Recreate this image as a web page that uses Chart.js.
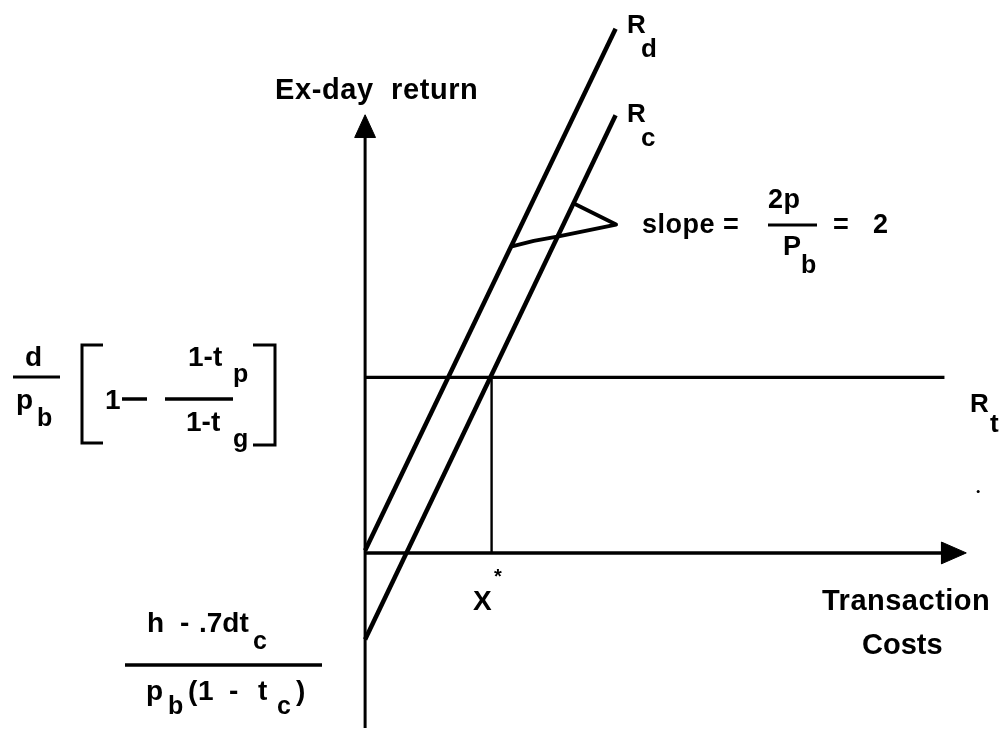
<!DOCTYPE html>
<html>
<head>
<meta charset="utf-8">
<script src="https://cdn.jsdelivr.net/npm/chart.js@4/dist/chart.umd.min.js"></script>
<style>
  html, body { margin: 0; padding: 0; background: #fff; }
  #wrap { width: 1005px; height: 732px; position: relative; }
</style>
</head>
<body>
<div id="wrap"><canvas id="c"></canvas></div>
<script>
// ---- data (diagram units) ----
const vAxisX = [0, 0];
const vAxisY = [-7.1, 16.9];
const hAxisX = [0, 23.3];
const hAxisY = [0, 0];
const vArrowX = [0, 0.42, -0.42, 0];
const vArrowY = [17.72, 16.8, 16.8, 17.72];
const hArrowX = [24.24, 23.24, 23.24, 24.24];
const hArrowY = [0, 0.44, -0.44, 0];
const rdX = [0, 10.1];
const rdY = [0.1, 21.2];
const rcX = [0, 10.1];
const rcY = [-3.5, 17.7];
const rtX = [0, 23.36];
const rtY = [7.1, 7.1];
const xStarX = [5.1, 5.1];
const xStarY = [0, 7.1];
const slopeX = [5.92, 6.8, 7.8, 10.12, 8.44];
const slopeY = [12.4, 12.62, 12.8, 13.28, 14.12];
const specX = [24.72];
const specY = [2.48];

function pts(xs, ys) { return xs.map((x, i) => ({ x: x, y: ys[i] })); }

function lineDs(xs, ys, w, extra) {
  return Object.assign({
    data: pts(xs, ys), showLine: true, borderColor: '#000', borderWidth: w,
    pointRadius: 0, fill: false, tension: 0
  }, extra || {});
}

const FONT = "'Liberation Sans', Arial, sans-serif";

const textPlugin = {
  id: 'texts',
  beforeDraw(chart) {
    const ctx = chart.ctx;
    ctx.save();
    ctx.fillStyle = '#fff';
    ctx.fillRect(0, 0, chart.width, chart.height);
    ctx.restore();
  },
  afterDraw(chart) {
    const ctx = chart.ctx;
    ctx.save();
    ctx.fillStyle = '#000';
    ctx.strokeStyle = '#000';
    ctx.textBaseline = 'alphabetic';
    ctx.textAlign = 'left';
    function t(s, x, y, size, ls) {
      ctx.font = 'bold ' + size + 'px ' + FONT;
      ctx.letterSpacing = (ls || 0) + 'px';
      ctx.fillText(s, x, y);
    }
    function bar(x1, y1, x2, y2, w) {
      ctx.lineWidth = w || 3;
      ctx.beginPath(); ctx.moveTo(x1, y1); ctx.lineTo(x2, y2); ctx.stroke();
    }
    // axis title
    t('Ex-day  return', 275, 99, 29, 0.6);
    // line labels
    t('R', 627, 33, 26); t('d', 641, 57, 26);
    t('R', 627, 122, 26); t('c', 641, 146, 26);
    t('R', 970, 412, 26); t('t', 990, 432, 26);
    // slope annotation
    t('slope', 642, 233, 27, 0.5);
    t('=', 723, 233, 27);
    t('2p', 768, 208, 27, 0.5);
    bar(768, 225, 817, 225, 3);
    t('P', 783, 255, 27);
    t('b', 801, 273, 25);
    t('=', 833, 233, 27);
    t('2', 873, 233, 27);
    // left formula d/p_b [1 - (1-t_p)/(1-t_g)]
    t('d', 25, 366, 28);
    bar(13, 377, 60, 377, 3);
    t('p', 16, 409, 28);
    t('b', 37, 426, 25);
    ctx.lineWidth = 3;
    ctx.beginPath();
    ctx.moveTo(103, 345); ctx.lineTo(82, 345); ctx.lineTo(82, 443); ctx.lineTo(103, 443);
    ctx.stroke();
    t('1', 105, 409, 28);
    bar(122, 399, 147, 399, 3.5);
    t('1-t', 188, 366, 28);
    t('p', 233, 382, 25);
    bar(165, 399, 233, 399, 3.5);
    t('1-t', 186, 431, 28);
    t('g', 233, 447, 25);
    ctx.lineWidth = 3;
    ctx.beginPath();
    ctx.moveTo(253, 345); ctx.lineTo(275, 345); ctx.lineTo(275, 445); ctx.lineTo(253, 445);
    ctx.stroke();
    // bottom-left formula
    t('h', 147, 632, 28);
    t('-', 180, 632, 28);
    t('.7dt', 199, 632, 28);
    t('c', 253, 649, 25);
    bar(125, 665, 322, 665, 3.5);
    t('p', 146, 700, 28);
    t('b', 168, 714, 25);
    t('(', 188, 700, 28);
    t('1', 198, 700, 28);
    t('-', 229, 700, 28);
    t('t', 258, 700, 28);
    t('c', 277, 714, 25);
    t(')', 296, 700, 28);
    // X*
    t('X', 473, 610, 28);
    t('*', 494, 583, 20);
    // x-axis title
    t('Transaction', 822, 610, 29, 0.5);
    t('Costs', 862, 654, 29, 0);
    ctx.restore();
  }
};

new Chart(document.getElementById('c'), {
  type: 'scatter',
  data: {
    datasets: [
      lineDs(vAxisX, vAxisY, 3),
      lineDs(hAxisX, hAxisY, 3.4),
      lineDs(vArrowX, vArrowY, 1, { fill: 'shape', backgroundColor: '#000' }),
      lineDs(hArrowX, hArrowY, 1, { fill: 'shape', backgroundColor: '#000' }),
      lineDs(rdX, rdY, 4.5),
      lineDs(rcX, rcY, 4.5),
      lineDs(rtX, rtY, 3.4),
      lineDs(xStarX, xStarY, 2.4),
      lineDs(slopeX, slopeY, 3.8, { borderJoinStyle: 'round' }),
      { data: pts(specX, specY), pointRadius: 1.5, backgroundColor: '#000', borderWidth: 0 }
    ]
  },
  options: {
    responsive: true,
    maintainAspectRatio: false,
    devicePixelRatio: 1,
    animation: false,
    layout: { padding: 0 },
    plugins: { legend: { display: false }, tooltip: { enabled: false } },
    scales: {
      x: { type: 'linear', display: false, min: -14.56, max: 25.64 },
      y: { type: 'linear', display: false, min: -7.08, max: 22.2 }
    }
  },
  plugins: [textPlugin]
});
</script>
</body>
</html>
